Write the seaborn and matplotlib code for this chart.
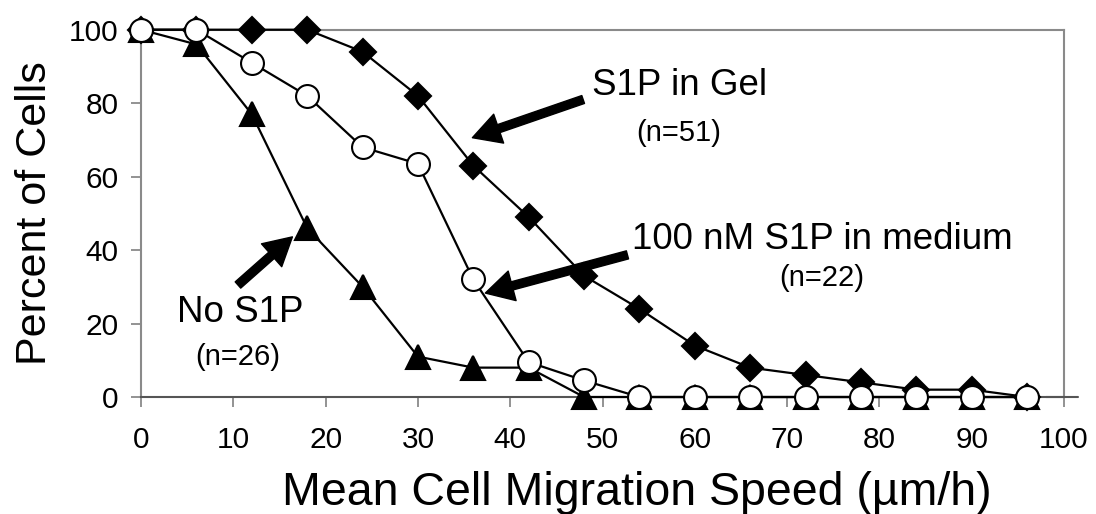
import matplotlib
matplotlib.use("Agg")
import matplotlib.pyplot as plt
import seaborn as sns
import pandas as pd

# ---- data ----
speed = [0, 6, 12, 18, 24, 30, 36, 42, 48, 54, 60, 66, 72, 78, 84, 90, 96]
s1p_gel = [100, 100, 100, 100, 94, 82, 63, 49, 33, 24, 14, 8, 6, 4, 2, 2, 0]
s1p_medium = [100, 100, 91, 82, 68, 63.5, 32, 9.5, 4.5, 0, 0, 0, 0, 0, 0, 0, 0]
no_s1p = [100, 96, 77, 46, 30, 11, 8, 8, 0, 0, 0, 0, 0, 0, 0, 0, 0]
x_ticks = [0, 10, 20, 30, 40, 50, 60, 70, 80, 90, 100]
y_ticks = [0, 20, 40, 60, 80, 100]

sns.set_theme(style="white")
plt.rcParams["font.family"] = ["Liberation Sans", "DejaVu Sans"]
plt.rcParams["text.color"] = "black"
plt.rcParams["axes.labelcolor"] = "black"

fig = plt.figure(figsize=(10.96, 5.14), dpi=100)
ax = fig.add_axes([0.1287, 0.2276, 0.8421, 0.7146])

common = dict(color="black", linewidth=1.6, markeredgecolor="black",
              markeredgewidth=1.5, clip_on=False, ax=ax)
sns.lineplot(x=speed, y=s1p_gel, marker="D", markersize=13.5,
             markerfacecolor="black", zorder=3, **common)
sns.lineplot(x=speed, y=no_s1p, marker="^", markersize=17,
             markerfacecolor="black", zorder=4, **common)
sns.lineplot(x=speed, y=s1p_medium, marker="o", markersize=16.5,
             markerfacecolor="white", zorder=5, **common)

ax.set_xlim(0, 100)
ax.set_ylim(0, 100)
ax.set_xticks(x_ticks)
ax.set_yticks(y_ticks)
ax.tick_params(axis="both", labelsize=21.5, colors="#808080", labelcolor="black",
               length=7, width=1.2)
ax.tick_params(axis="x", pad=14, direction="out", bottom=True)
ax.tick_params(axis="y", pad=9, direction="out", left=True)

for side in ["top", "right", "left"]:
    ax.spines[side].set_color("#8a8a8a")
    ax.spines[side].set_linewidth(1.5)
ax.spines["bottom"].set_color("#555555")
ax.spines["bottom"].set_linewidth(1.5)
ax.axhline(0, xmin=0.98, xmax=1.015, color="#555555", lw=1.5, clip_on=False, zorder=1)

ax.set_xlabel("Mean Cell Migration Speed (µm/h)", fontsize=33.5, labelpad=12)
ax.xaxis.label.set_x(0.537)
ax.set_ylabel("Percent of Cells", fontsize=31, labelpad=10)

arrow = dict(facecolor="black", edgecolor="black", width=6, headwidth=22,
             headlength=20, shrink=0)
ax.annotate("", xy=(35.9, 70.6), xytext=(47.9, 81), arrowprops=arrow)
ax.annotate("", xy=(37.3, 28.3), xytext=(52.7, 38.7), arrowprops=arrow)
ax.annotate("", xy=(16.4, 43.6), xytext=(10.5, 30.5), arrowprops=arrow)

ax.text(58.4, 84.7, "S1P in Gel", fontsize=26.5, ha="center", va="center")
ax.text(58.2, 72, "(n=51)", fontsize=21, ha="center", va="center")
ax.text(73.8, 42.8, "100 nM S1P in medium", fontsize=26.5, ha="center", va="center")
ax.text(73.8, 32.4, "(n=22)", fontsize=21, ha="center", va="center")
ax.text(10.7, 22.9, "No S1P", fontsize=26.5, ha="center", va="center")
ax.text(10.5, 10.9, "(n=26)", fontsize=21, ha="center", va="center")

fig.savefig("out.png", dpi=100)
